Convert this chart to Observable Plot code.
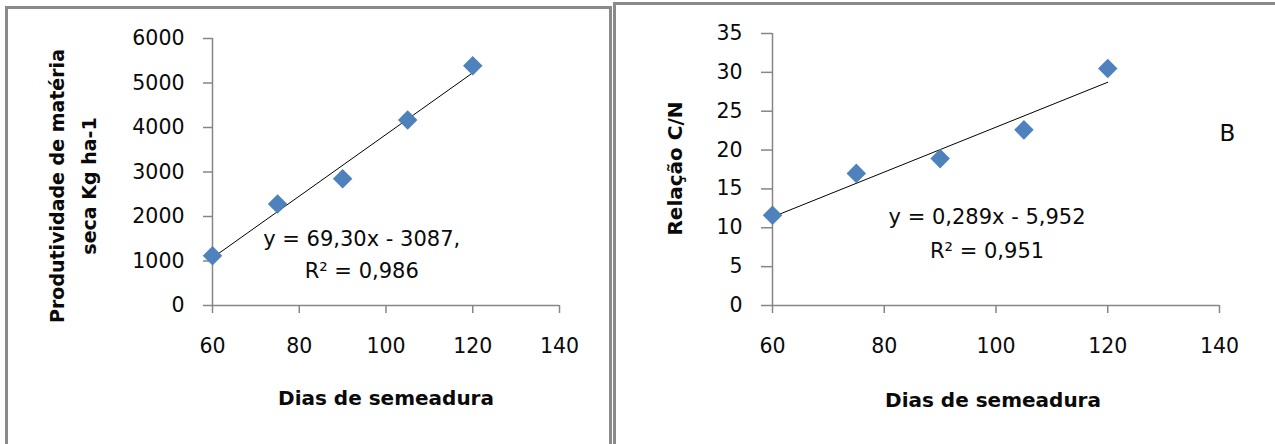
<!DOCTYPE html>
<html>
<head>
<meta charset="utf-8">
<script src="https://cdn.jsdelivr.net/npm/d3@7"></script>
<script src="https://cdn.jsdelivr.net/npm/@observablehq/plot@0.6"></script>
<style>
  html, body { margin: 0; padding: 0; background: #fff; overflow: hidden; }
  #wrap { position: relative; width: 1275px; height: 444px; overflow: hidden; }
  .panel { position: absolute; top: 0; }
  .frame { position: absolute; box-sizing: border-box; border-style: solid; border-color: #8a8a8a; border-width: 3px 3px 0 3px; height: 500px; }
</style>
</head>
<body>
<div id="wrap">
  <div class="frame" style="left:5px; top:6px; width:607px;"></div>
  <div class="frame" style="left:613px; top:2px; width:700px; border-right-width:0;"></div>
  <div id="left" class="panel" style="left:0px;"></div>
  <div id="right" class="panel" style="left:612px;"></div>
</div>
<script>
// ---- data ----
const days = [60, 75, 90, 105, 120];
const biomass = [1120, 2280, 2850, 4170, 5390];   // Produtividade de matéria seca (kg/ha)
const cnRatio = [11.6, 17.0, 18.9, 22.6, 30.5];    // Relação C/N
const xTicks = [60, 80, 100, 120, 140];
const yTicksA = [0, 1000, 2000, 3000, 4000, 5000, 6000];
const yTicksB = [0, 5, 10, 15, 20, 25, 30, 35];
const fitA = { slope: 69.30, intercept: -3087 };
const fitB = { slope: 0.289, intercept: -5.952 };
const eqA = "y = 69,30x - 3087,\nR² = 0,986";
const eqB = "y = 0,289x - 5,952\nR² = 0,951";
const xTitle = "Dias de semeadura";
const yTitleA = "Produtividade de matéria\nseca Kg ha-1";
const yTitleB = "Relação C/N";
const panelTag = "B";

const dataA = days.map((d, i) => ({ x: d, y: biomass[i] }));
const dataB = days.map((d, i) => ({ x: d, y: cnRatio[i] }));
const trendA = [days[0], days[days.length - 1]].map(x => ({ x, y: fitA.slope * x + fitA.intercept }));
const trendB = [days[0], days[days.length - 1]].map(x => ({ x, y: fitB.slope * x + fitB.intercept }));

const AXIS = "#868686";
const BLUE = "#4F81BD";
const FONT = "DejaVu Sans";
const INK = "#0a0a0a";

function panel({ data, trend, yDomain, yTicks, width, marginLeft, marginRight, marginTop, yTickSize, yPad,
                 yTitle, yTitleSize, yTitleDx, yTitleDy, yTitleLH, xTitleDx, xTitleDy, eq, eqPos, eqLH, extra }) {
  return Plot.plot({
    width, height: 444,
    marginLeft, marginRight, marginTop, marginBottom: 139,
    style: { fontFamily: FONT, fontSize: "20px", background: "transparent", color: INK, overflow: "visible" },
    x: { domain: [60, 140] },
    y: { domain: yDomain },
    marks: [
      Plot.ruleY([yDomain[0]], { stroke: AXIS, strokeWidth: 1.5 }),
      Plot.ruleX([60], { stroke: AXIS, strokeWidth: 1.5 }),
      Plot.axisX({ ticks: xTicks, tickSize: 8, text: null, stroke: AXIS, strokeWidth: 1.5, label: null }),
      Plot.axisX({ ticks: xTicks, tickSize: 0, tickPadding: 33, fill: INK, label: null, tickFormat: d => String(d), fontSize: 20.5 }),
      Plot.axisY({ ticks: yTicks, tickSize: yTickSize, text: null, stroke: AXIS, strokeWidth: 1.5, label: null }),
      Plot.axisY({ ticks: yTicks, tickSize: 0, tickPadding: yPad, fill: INK, label: null, tickFormat: d => String(d), fontSize: 20.5 }),
      Plot.line(trend, { x: "x", y: "y", stroke: "#000", strokeWidth: 1 }),
      Plot.dot(data, { x: "x", y: "y", symbol: "diamond2", r: 8.8, fill: BLUE, stroke: "none" }),
      Plot.text([eq], { x: eqPos[0], y: eqPos[1], textAnchor: "middle", lineAnchor: "middle", lineHeight: eqLH, fontSize: 21, fill: INK }),
      Plot.text([xTitle], { frameAnchor: "bottom", dx: xTitleDx, dy: xTitleDy, textAnchor: "middle", lineAnchor: "middle", fontWeight: "bold", fontSize: 20, fill: INK }),
      Plot.text([yTitle], { frameAnchor: "left", rotate: -90, dx: yTitleDx, dy: yTitleDy, textAnchor: "middle", lineAnchor: "middle", lineHeight: yTitleLH, fontWeight: "bold", fontSize: yTitleSize, fill: INK }),
      ...(extra || [])
    ]
  });
}

document.getElementById("left").appendChild(panel({
  data: dataA, trend: trendA, yDomain: [0, 6000], yTicks: yTicksA,
  width: 612, marginLeft: 212, marginRight: 53, marginTop: 38, yTickSize: 9, yPad: 28,
  yTitle: yTitleA, yTitleSize: 19, yTitleDx: -143, yTitleDy: 14, yTitleLH: 1.7,
  xTitleDx: 0, xTitleDy: 93, eq: eqA, eqPos: [94.4, 1213], eqLH: 1.55
}));

document.getElementById("right").appendChild(panel({
  data: dataB, trend: trendB, yDomain: [0, 35], yTicks: yTicksB,
  width: 663, marginLeft: 160, marginRight: 56, marginTop: 33, yTickSize: 11, yPad: 30,
  yTitle: yTitleB, yTitleSize: 20, yTitleDx: -98, yTitleDy: -1, yTitleLH: 1.2,
  xTitleDx: -3, xTitleDy: 95, eq: eqB, eqPos: [98.4, 9.7], eqLH: 1.6,
  extra: [Plot.text([panelTag], { x: 141.4, y: 22.1, textAnchor: "middle", lineAnchor: "middle", fontSize: 23, fill: INK })]
}));
</script>
</body>
</html>
